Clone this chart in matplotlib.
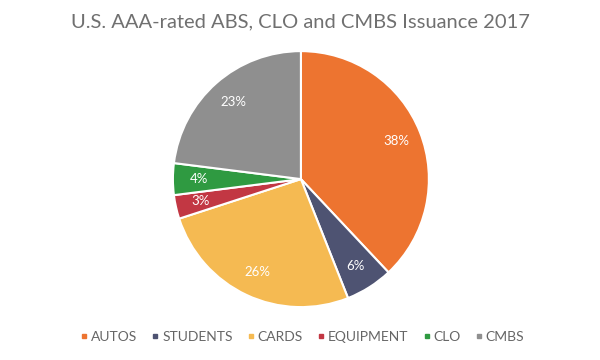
import matplotlib
matplotlib.use("Agg")
import matplotlib.pyplot as plt
from matplotlib.lines import Line2D

categories = ["AUTOS", "STUDENTS", "CARDS", "EQUIPMENT", "CLO", "CMBS"]
values = [38, 6, 26, 3, 4, 23]
colors = ["#ED7430", "#4E5372", "#F5BA52", "#C23743", "#2F9A41", "#8F8F8F"]
title = "U.S. AAA-rated ABS, CLO and CMBS Issuance 2017"

plt.rcParams['font.family'] = ['Lato', 'DejaVu Sans']

fig = plt.figure(figsize=(6, 3.6), dpi=100)
ax = fig.add_axes([0.288, 0.147, 0.427, 0.711])
wedges, texts, autotexts = ax.pie(
    values, colors=colors, startangle=90, counterclock=False,
    autopct=lambda p: f"{p:.0f}%", pctdistance=0.8,
    wedgeprops=dict(edgecolor="white", linewidth=1.5),
    textprops=dict(color="white", fontsize=9.5))
ax.set_aspect("equal")
ax.set_xlim(-1.0, 1.0)
ax.set_ylim(-1.0, 1.0)

fig.text(0.5, 0.94, title, ha="center", va="center", fontsize=14.5,
         color="#707070")

handles = [Line2D([], [], marker="s", linestyle="", markersize=3.5,
                  markerfacecolor=c, markeredgecolor=c) for c in colors]
fig.legend(handles, categories, loc="center", bbox_to_anchor=(0.503, 0.063),
           ncol=6, frameon=False, fontsize=10, labelcolor="#666666",
           handletextpad=0.15, columnspacing=0.95, handlelength=0.7)

fig.savefig("out.png", dpi=100)
